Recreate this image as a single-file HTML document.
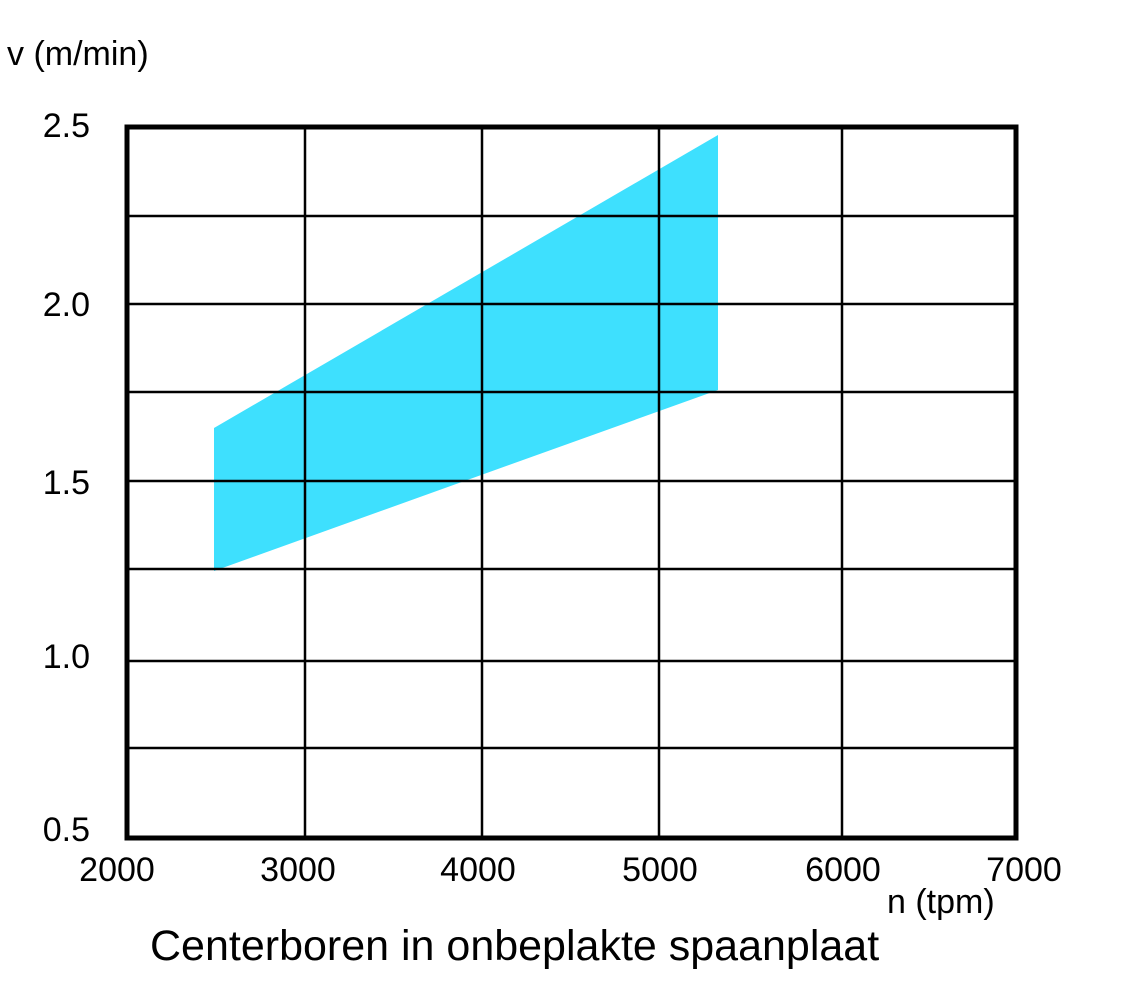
<!DOCTYPE html>
<html><head><style>
html,body{margin:0;padding:0;background:#fff;}
svg{display:block;}
text{font-family:"Liberation Sans",Arial,sans-serif;fill:#000;}
</style></head><body>
<svg width="1124" height="1006" viewBox="0 0 1124 1006" xmlns="http://www.w3.org/2000/svg">
<rect width="1124" height="1006" fill="#fff"/>
<polygon points="214,428 718,135 718,390 214,571" fill="#3ee0fe"/>
<g stroke="#000" stroke-width="2.5">
<line x1="127" y1="216" x2="1016" y2="216"/>
<line x1="127" y1="304" x2="1016" y2="304"/>
<line x1="127" y1="392" x2="1016" y2="392"/>
<line x1="127" y1="481" x2="1016" y2="481"/>
<line x1="127" y1="569" x2="1016" y2="569"/>
<line x1="127" y1="661" x2="1016" y2="661"/>
<line x1="127" y1="748" x2="1016" y2="748"/>
<line x1="305" y1="127" x2="305" y2="838"/>
<line x1="482" y1="127" x2="482" y2="838"/>
<line x1="659" y1="127" x2="659" y2="838"/>
<line x1="842" y1="127" x2="842" y2="838"/>
</g>
<rect x="127" y="127" width="889" height="711" fill="none" stroke="#000" stroke-width="5"/>
<text x="7" y="65" font-size="34">v (m/min)</text>
<g font-size="34" text-anchor="end">
<text x="90" y="137">2.5</text>
<text x="90" y="316">2.0</text>
<text x="90" y="494">1.5</text>
<text x="90" y="668">1.0</text>
<text x="90" y="841">0.5</text>
</g>
<g font-size="34" text-anchor="middle">
<text x="117" y="881">2000</text>
<text x="298" y="881">3000</text>
<text x="478" y="881">4000</text>
<text x="660" y="881">5000</text>
<text x="843" y="881">6000</text>
<text x="1024" y="881">7000</text>
</g>
<text x="887" y="913" font-size="34">n (tpm)</text>
<text x="150" y="960" font-size="43">Centerboren in onbeplakte spaanplaat</text>
</svg>
</body></html>
